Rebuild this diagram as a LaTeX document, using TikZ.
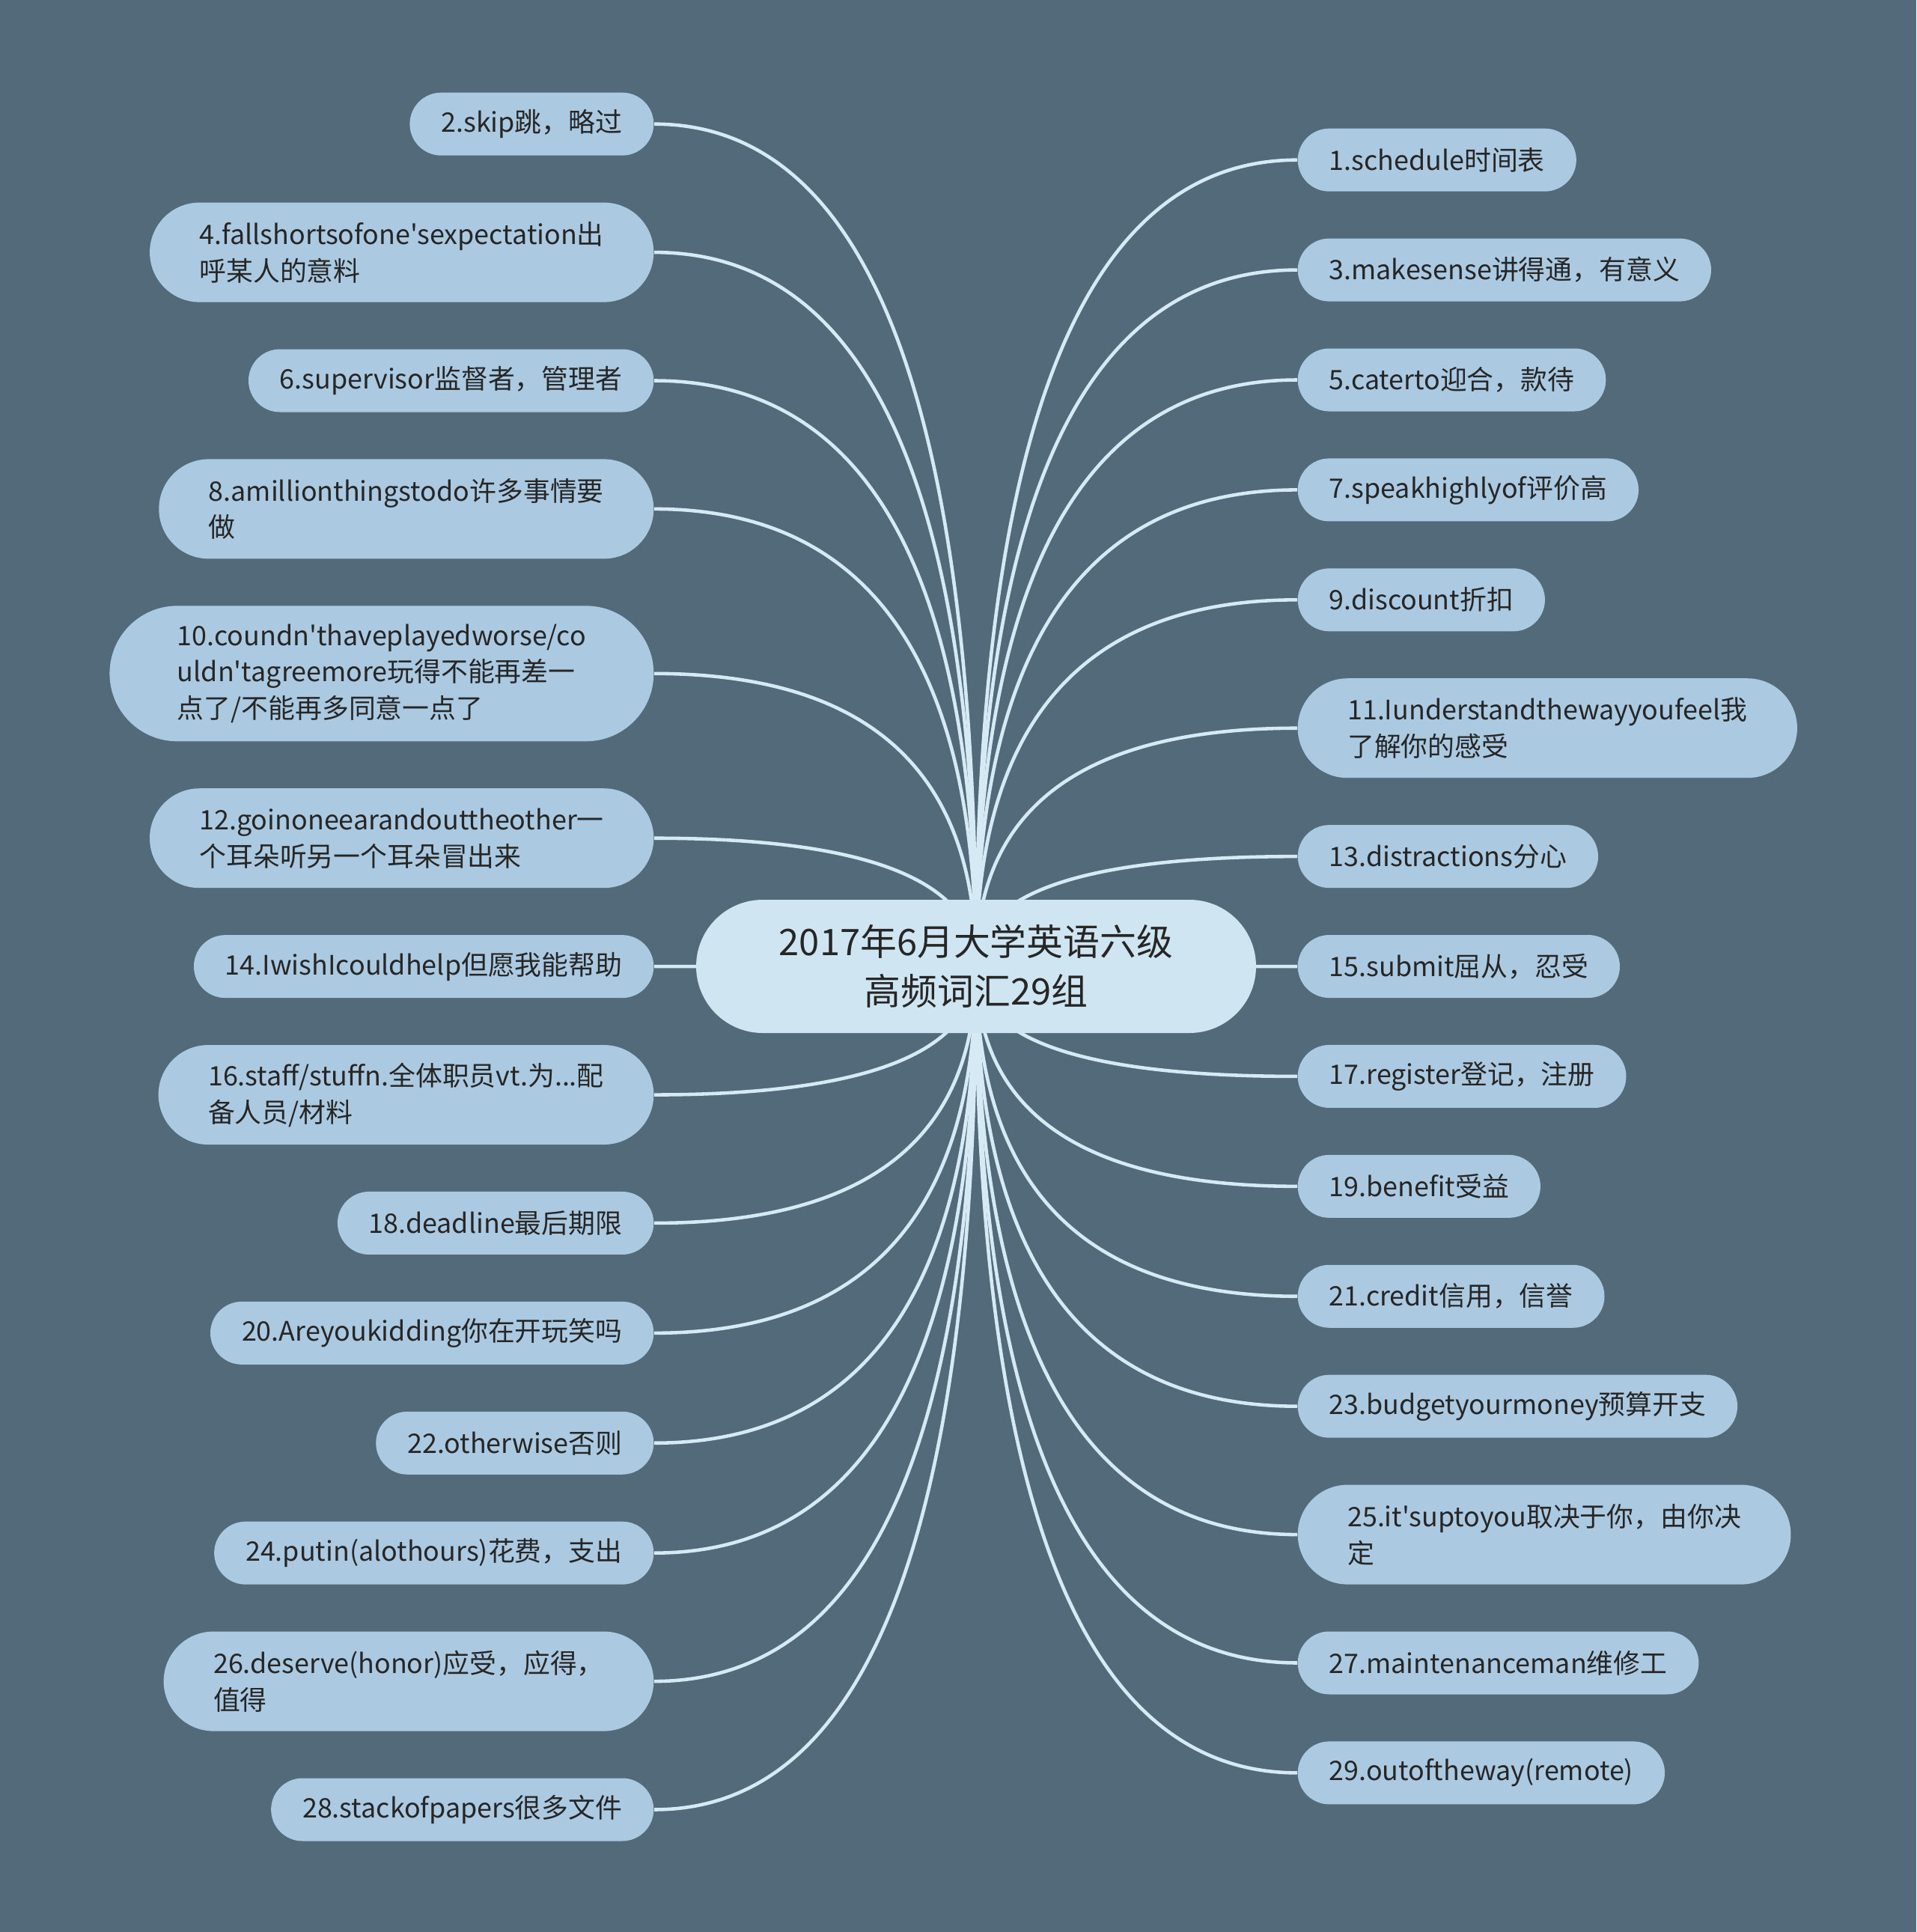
\documentclass[tikz,border=0pt]{standalone}
\usepackage{fontspec}
\setmainfont{Noto Sans CJK SC}[Ligatures=TeXOff]
\usetikzlibrary{positioning, calc}
\definecolor{SlateBack}{HTML}{526A7A}
\definecolor{LeafFill}{HTML}{ABCAE1}
\definecolor{RootFill}{HTML}{CFE5F2}
\definecolor{LinkLine}{HTML}{D5EAF5}
\definecolor{InkDark}{HTML}{262626}
\pgfdeclarelayer{back}
\pgfdeclarelayer{wires}
\pgfsetlayers{back,wires,main}

\begin{document}
\begin{tikzpicture}[
    topic/.style={
        rectangle, rounded corners=0.89cm, fill=RootFill, text=InkDark,
        minimum height=1.78cm, minimum width=7.48cm,
        align=center, font=\fontsize{13.9}{18.8}\selectfont
    },
    leaf/.style={
        rectangle, rounded corners=#1, fill=LeafFill, text=InkDark,
        minimum height=2*#1, inner xsep=#1, inner ysep=0pt,
        align=left, font=\fontsize{10.2}{13.9}\selectfont
    },
    leaf/.default={0.42cm},
    link/.style={
        draw=LinkLine, line width=1.3pt,
        to path={.. controls ($(\tikztostart)!2/3!(\tikztostart |- \tikztotarget)$)
                 and ($(\tikztotarget)!2/3!(\tikztostart |- \tikztotarget)$) .. (\tikztotarget)}
    },
    node distance=0.615cm
]

% ===================================================================
% BACKGROUND
% ===================================================================
\begin{pgfonlayer}{back}
\fill[SlateBack] (0,0) rectangle (25.6,-25.81);
\end{pgfonlayer}

% ===================================================================
% ROOT
% ===================================================================
\node[topic] (root) at (13.04,-12.91)
    {2017年6月大学英语六级\\高频词汇29组};

% ===================================================================
% LEFT COLUMN (even numbers)
% ===================================================================
\node[leaf, anchor=north east] (w2) at (8.74,-1.23)
    {2.skip跳，略过};
\node[leaf=0.665cm, below=of w2.south east, anchor=north east] (w4)
    {4.fallshortsofone'sexpectation出\\呼某人的意料};
\node[leaf, below=of w4.south east, anchor=north east] (w6)
    {6.supervisor监督者，管理者};
\node[leaf=0.665cm, below=of w6.south east, anchor=north east] (w8)
    {8.amillionthingstodo许多事情要\\做};
\node[leaf=0.905cm, below=of w8.south east, anchor=north east] (w10)
    {10.coundn'thaveplayedworse/co\\uldn'tagreemore玩得不能再差一\\点了/不能再多同意一点了};
\node[leaf=0.665cm, below=of w10.south east, anchor=north east] (w12)
    {12.goinoneearandouttheother一\\个耳朵听另一个耳朵冒出来};
\node[leaf, below=of w12.south east, anchor=north east] (w14)
    {14.IwishIcouldhelp但愿我能帮助};
\node[leaf=0.665cm, below=of w14.south east, anchor=north east] (w16)
    {16.staff/stuffn.全体职员vt.为...配\\备人员/材料};
\node[leaf, below=of w16.south east, anchor=north east] (w18)
    {18.deadline最后期限};
\node[leaf, below=of w18.south east, anchor=north east] (w20)
    {20.Areyoukidding你在开玩笑吗};
\node[leaf, below=of w20.south east, anchor=north east] (w22)
    {22.otherwise否则};
\node[leaf, below=of w22.south east, anchor=north east] (w24)
    {24.putin(alothours)花费，支出};
\node[leaf=0.665cm, below=of w24.south east, anchor=north east] (w26)
    {26.deserve(honor)应受，应得，\\值得};
\node[leaf, below=of w26.south east, anchor=north east] (w28)
    {28.stackofpapers很多文件};

% ===================================================================
% RIGHT COLUMN (odd numbers)
% ===================================================================
\node[leaf, anchor=north west] (w1) at (17.33,-1.71)
    {1.schedule时间表};
\node[leaf, below=of w1.south west, anchor=north west] (w3)
    {3.makesense讲得通，有意义};
\node[leaf, below=of w3.south west, anchor=north west] (w5)
    {5.caterto迎合，款待};
\node[leaf, below=of w5.south west, anchor=north west] (w7)
    {7.speakhighlyof评价高};
\node[leaf, below=of w7.south west, anchor=north west] (w9)
    {9.discount折扣};
\node[leaf=0.665cm, below=of w9.south west, anchor=north west] (w11)
    {11.Iunderstandthewayyoufeel我\\了解你的感受};
\node[leaf, below=of w11.south west, anchor=north west] (w13)
    {13.distractions分心};
\node[leaf, below=of w13.south west, anchor=north west] (w15)
    {15.submit屈从，忍受};
\node[leaf, below=of w15.south west, anchor=north west] (w17)
    {17.register登记，注册};
\node[leaf, below=of w17.south west, anchor=north west] (w19)
    {19.benefit受益};
\node[leaf, below=of w19.south west, anchor=north west] (w21)
    {21.credit信用，信誉};
\node[leaf, below=of w21.south west, anchor=north west] (w23)
    {23.budgetyourmoney预算开支};
\node[leaf=0.665cm, below=of w23.south west, anchor=north west] (w25)
    {25.it'suptoyou取决于你，由你决\\定};
\node[leaf, below=of w25.south west, anchor=north west] (w27)
    {27.maintenanceman维修工};
\node[leaf, below=of w27.south west, anchor=north west] (w29)
    {29.outoftheway(remote)};

% ===================================================================
% LINKS (behind the nodes)
% ===================================================================
\begin{pgfonlayer}{wires}
\draw[link] (root.center) to (w2.east);
\draw[link] (root.center) to (w4.east);
\draw[link] (root.center) to (w6.east);
\draw[link] (root.center) to (w8.east);
\draw[link] (root.center) to (w10.east);
\draw[link] (root.center) to (w12.east);
\draw[link] (root.center) to (w14.east);
\draw[link] (root.center) to (w16.east);
\draw[link] (root.center) to (w18.east);
\draw[link] (root.center) to (w20.east);
\draw[link] (root.center) to (w22.east);
\draw[link] (root.center) to (w24.east);
\draw[link] (root.center) to (w26.east);
\draw[link] (root.center) to (w28.east);

\draw[link] (root.center) to (w1.west);
\draw[link] (root.center) to (w3.west);
\draw[link] (root.center) to (w5.west);
\draw[link] (root.center) to (w7.west);
\draw[link] (root.center) to (w9.west);
\draw[link] (root.center) to (w11.west);
\draw[link] (root.center) to (w13.west);
\draw[link] (root.center) to (w15.west);
\draw[link] (root.center) to (w17.west);
\draw[link] (root.center) to (w19.west);
\draw[link] (root.center) to (w21.west);
\draw[link] (root.center) to (w23.west);
\draw[link] (root.center) to (w25.west);
\draw[link] (root.center) to (w27.west);
\draw[link] (root.center) to (w29.west);
\end{pgfonlayer}

\end{tikzpicture}
\end{document}
